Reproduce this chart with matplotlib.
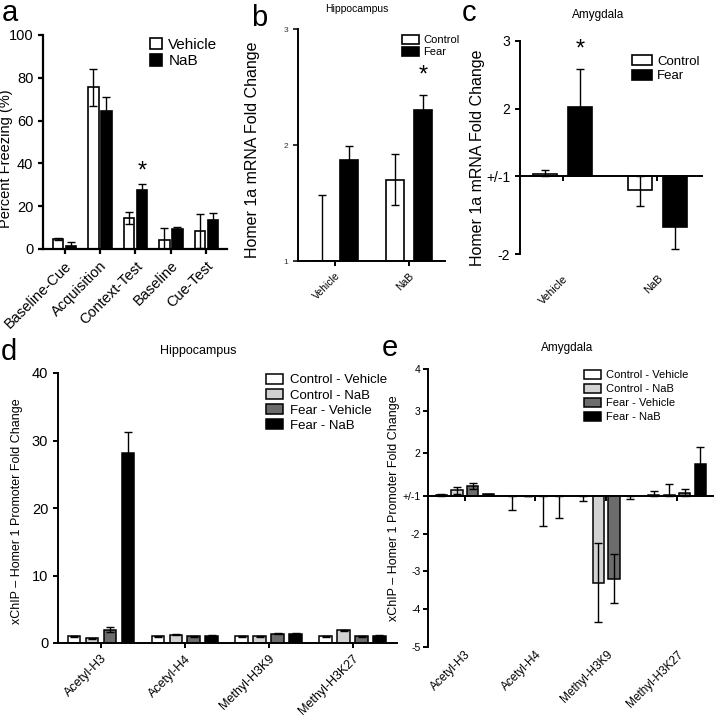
import matplotlib
matplotlib.use('Agg')
import matplotlib.pyplot as plt
import numpy as np

plt.rcParams['font.family'] = ['Liberation Sans', 'DejaVu Sans']

W, H = 716, 720

# a - freezing behaviour
phases = ['Baseline-Cue', 'Acquisition', 'Context-Test', 'Baseline', 'Cue-Test']
freeze_vehicle = [4.5, 75.5, 14.5, 4.0, 8.5]
freeze_vehicle_err = [0.5, 8.5, 3.0, 6.0, 8.0]
freeze_nab = [1.5, 64.5, 27.5, 9.5, 13.5]
freeze_nab_err = [2.0, 6.5, 3.0, 1.0, 3.5]

# b, c - Homer 1a mRNA fold change
drugs = ['Vehicle', 'NaB']
hipp_control = [1.0, 1.70]
hipp_control_err = [0.57, 0.22]
hipp_fear = [1.87, 2.30]
hipp_fear_err = [0.12, 0.13]

amyg_control = [1.03, -1.18]
amyg_control_err = [0.06, 0.20]
amyg_fear = [2.02, -1.65]
amyg_fear_err = [0.57, 0.28]

# d, e - xChIP Homer 1 promoter
marks = ['Acetyl-H3', 'Acetyl-H4', 'Methyl-H3K9', 'Methyl-H3K27']
groups = ['Control - Vehicle', 'Control - NaB', 'Fear - Vehicle', 'Fear - NaB']
group_colors = ['white', '#d2d2d2', '#6c6c6c', 'black']

chip_hipp = [[1.0, 1.0, 1.0, 1.0],
             [0.7, 1.25, 1.0, 1.9],
             [2.0, 1.0, 1.4, 1.0],
             [28.1, 1.1, 1.4, 1.1]]
chip_hipp_err = [[0.08, 0.08, 0.05, 0.05],
                 [0.05, 0.1, 0.08, 0.1],
                 [0.3, 0.05, 0.08, 0.05],
                 [3.1, 0.12, 0.08, 0.08]]

chip_amyg = [[1.02, -1.02, -1.02, 1.01],
             [1.13, 1.0, -3.3, 1.01],
             [1.23, -1.02, -3.2, 1.07],
             [1.03, -1.02, -1.02, 1.75]]
chip_amyg_err = [[0.02, 0.35, 0.13, 0.11],
                 [0.08, 0.0, 1.05, 0.27],
                 [0.08, 0.78, 0.65, 0.08],
                 [0.01, 0.58, 0.08, 0.40]]


def px_axes(l, t, r, b):
    return fig.add_axes([l / W, 1 - b / H, (r - l) / W, (b - t) / H])


def fold(v):
    # fold change with +/-1 as the baseline
    v = np.asarray(v, float)
    return np.sign(v) * (np.abs(v) - 1)


def clipped_err(m, e):
    # symmetric error, but not crossing the baseline
    m = np.asarray(m, float)
    e = np.asarray(e, float)
    lo = np.where(m > 0, np.minimum(e, m), e)
    hi = np.where(m < 0, np.minimum(e, -m), e)
    return [lo, hi]


def split_scale(ax, r):
    f = lambda y: np.where(y >= 0, y, y * r)
    g = lambda y: np.where(y >= 0, y, y / r)
    ax.set_yscale('function', functions=(f, g))


def style(ax, lw=1.4):
    for s in ['top', 'right']:
        ax.spines[s].set_visible(False)
    for s in ['left', 'bottom']:
        ax.spines[s].set_linewidth(lw)
    ax.tick_params(width=lw, length=3.5, direction='out')


fig = plt.figure(figsize=(W / 100, H / 100), dpi=100)
ebar = dict(fmt='none', ecolor='black', elinewidth=1, capsize=3, capthick=1)

# ---------- a
ax = px_axes(43, 35, 227, 249)
x = np.arange(len(phases))
ax.bar(x - 0.183, freeze_vehicle, 0.296, color='white', edgecolor='black', lw=1.2, label='Vehicle')
ax.bar(x + 0.183, freeze_nab, 0.296, color='black', edgecolor='black', lw=1.2, label='NaB')
ax.errorbar(x - 0.183, freeze_vehicle, yerr=freeze_vehicle_err, **ebar)
ax.errorbar(x + 0.183, freeze_nab, yerr=freeze_nab_err, **ebar)
ax.set_xlim(-0.606, 4.58)
ax.set_ylim(0, 100)
ax.set_yticks(range(0, 101, 20))
ax.set_xticks(x, phases, rotation=45, ha='right', rotation_mode='anchor')
ax.tick_params(labelsize=10.5)
ax.set_ylabel('Percent Freezing (%)', fontsize=10.5)
ax.yaxis.set_label_coords(-0.165, 0.42)
ax.text(2 + 0.183, 36.0, '*', ha='center', va='center', fontsize=17)
style(ax, 1.6)
ax.legend(loc='upper left', bbox_to_anchor=(150 / W, 1 - 38 / H), bbox_transform=fig.transFigure,
          frameon=False, fontsize=11, handlelength=0.8, handleheight=0.75, handletextpad=0.4,
          labelspacing=0.15, borderpad=0, borderaxespad=0)

# ---------- b
ax = px_axes(298, 29, 445, 261)
x = np.arange(len(drugs))
ax.bar(x - 0.187, hipp_control, 0.245, color='white', edgecolor='black', lw=1.2, label='Control')
ax.bar(x + 0.187, hipp_fear, 0.245, color='black', edgecolor='black', lw=1.2, label='Fear')
ax.errorbar(x - 0.187, hipp_control, yerr=hipp_control_err, **ebar)
ax.errorbar(x + 0.187, hipp_fear, yerr=hipp_fear_err, **ebar)
ax.set_xlim(-0.51, 1.49)
ax.set_ylim(1, 3)
ax.set_yticks([1, 2, 3])
ax.set_xticks(x, drugs, rotation=45, ha='right', rotation_mode='anchor')
ax.tick_params(axis='y', labelsize=6, colors='#333333')
ax.tick_params(axis='x', labelsize=7.5)
ax.set_ylabel('Homer 1a mRNA Fold Change', fontsize=11.5)
ax.yaxis.set_label_coords(-0.26, 0.48)
ax.text(1 + 0.187, 2.60, '*', ha='center', va='center', fontsize=17)
style(ax)
ax.legend(loc='upper left', bbox_to_anchor=(402 / W, 1 - 35 / H), bbox_transform=fig.transFigure,
          frameon=False, fontsize=8, handlelength=1.5, handleheight=0.8, handletextpad=0.4,
          labelspacing=0.2, borderpad=0, borderaxespad=0)
fig.text(357 / W, 1 - 9 / H, 'Hippocampus', ha='center', va='center', fontsize=7.5)

# ---------- c
ax = px_axes(520, 41, 702, 254)
split_scale(ax, 1.145)
x = np.arange(len(drugs))
mc, mf = fold(amyg_control), fold(amyg_fear)
ax.bar(x - 0.1825, mc, 0.254, color='white', edgecolor='black', lw=1.2, label='Control')
ax.bar(x + 0.1825, mf, 0.254, color='black', edgecolor='black', lw=1.2, label='Fear')
ax.errorbar(x - 0.1825, mc, yerr=clipped_err(mc, amyg_control_err), **ebar)
ax.errorbar(x + 0.1825, mf, yerr=clipped_err(mf, amyg_fear_err), **ebar)
ax.set_xlim(-0.452, 1.473)
ax.set_ylim(-1, 2)
ax.set_yticks([2, 1, 0, -1], ['3', '2', '+/-1', '-2'])
ax.spines['bottom'].set_position(('data', 0))
ax.set_xticks(x)
ax.tick_params(axis='x', labelbottom=False)
ax.tick_params(axis='y', labelsize=10)
sec = ax.secondary_xaxis(0)
sec.set_xticks(x, drugs, rotation=45, ha='right', rotation_mode='anchor')
sec.tick_params(length=0, pad=14, labelsize=8)
sec.spines['bottom'].set_visible(False)
ax.set_ylabel('Homer 1a mRNA Fold Change', fontsize=11.5)
ax.yaxis.set_label_coords(-0.19, 0.45)
ax.text(0 + 0.1825, 1.867, '*', ha='center', va='center', fontsize=17)
style(ax)
ax.legend(loc='upper left', bbox_to_anchor=(632 / W, 1 - 55 / H), bbox_transform=fig.transFigure,
          frameon=False, fontsize=9.5, handlelength=1.5, handleheight=0.8, handletextpad=0.4,
          labelspacing=0.15, borderpad=0, borderaxespad=0)
fig.text(598 / W, 1 - 15 / H, 'Amygdala', ha='center', va='center', fontsize=8.5)

# ---------- d
ax = px_axes(58, 373, 397, 643)
x = np.arange(len(marks))
for i, g in enumerate(groups):
    xi = x + (i - 1.5) * 0.214
    ax.bar(xi, chip_hipp[i], 0.148, color=group_colors[i], edgecolor='black', lw=1.1, label=g)
    ax.errorbar(xi, chip_hipp[i], yerr=chip_hipp_err[i], **ebar)
ax.set_xlim(-0.51, 3.53)
ax.set_ylim(0, 40)
ax.set_yticks(range(0, 41, 10))
ax.set_xticks(x, marks, rotation=45, ha='right', rotation_mode='anchor')
ax.tick_params(axis='y', labelsize=10.5)
ax.tick_params(axis='x', labelsize=9)
ax.set_ylabel('xChIP \u2013 Homer 1 Promoter Fold Change', fontsize=9)
ax.yaxis.set_label_coords(-0.103, 0.49)
style(ax)
ax.legend(loc='upper left', bbox_to_anchor=(266 / W, 1 - 374 / H), bbox_transform=fig.transFigure,
          frameon=False, fontsize=9.5, handlelength=1.3, handleheight=0.75, handletextpad=0.5,
          labelspacing=0.2, borderpad=0, borderaxespad=0)
fig.text(198 / W, 1 - 351 / H, 'Hippocampus', ha='center', va='center', fontsize=9)

# ---------- e
ax = px_axes(428, 369, 713, 647)
split_scale(ax, 0.896)
x = np.arange(len(marks))
for i, g in enumerate(groups):
    xi = x + (i - 1.5) * 0.22
    m = fold(chip_amyg[i])
    ax.bar(xi, m, 0.156, color=group_colors[i], edgecolor='black', lw=1.1, label=g)
    ax.errorbar(xi, m, yerr=clipped_err(m, chip_amyg_err[i]), **ebar)
ax.set_xlim(-0.52, 3.51)
ax.set_ylim(-4, 3)
ax.set_yticks([3, 2, 1, 0, -1, -2, -3, -4], ['4', '3', '2', '+/-1', '-2', '-3', '-4', '-5'])
ax.spines['bottom'].set_position(('data', 0))
ax.set_xticks(x)
ax.tick_params(axis='x', labelbottom=False)
ax.tick_params(axis='y', labelsize=7.5, pad=2)
sec = ax.secondary_xaxis(0)
sec.set_xticks(x, marks, rotation=45, ha='right', rotation_mode='anchor')
sec.tick_params(length=0, pad=1, labelsize=8.5)
sec.spines['bottom'].set_visible(False)
ax.set_ylabel('xChIP \u2013 Homer 1 Promoter Fold Change', fontsize=9)
ax.yaxis.set_label_coords(-0.1, 0.5)
style(ax)
ax.legend(loc='upper left', bbox_to_anchor=(584 / W, 1 - 370 / H), bbox_transform=fig.transFigure,
          frameon=False, fontsize=8, handlelength=1.5, handleheight=0.8, handletextpad=0.5,
          labelspacing=0.35, borderpad=0, borderaxespad=0)
fig.text(567 / W, 1 - 348 / H, 'Amygdala', ha='center', va='center', fontsize=8.5)

# panel letters
for lab, (lx, ly) in zip('abcde', [(2, 21), (251, 26), (462, 21), (1, 360), (382, 356)]):
    fig.text(lx / W, 1 - ly / H, lab, fontsize=21, va='baseline')

fig.savefig('out.png', dpi=100)
